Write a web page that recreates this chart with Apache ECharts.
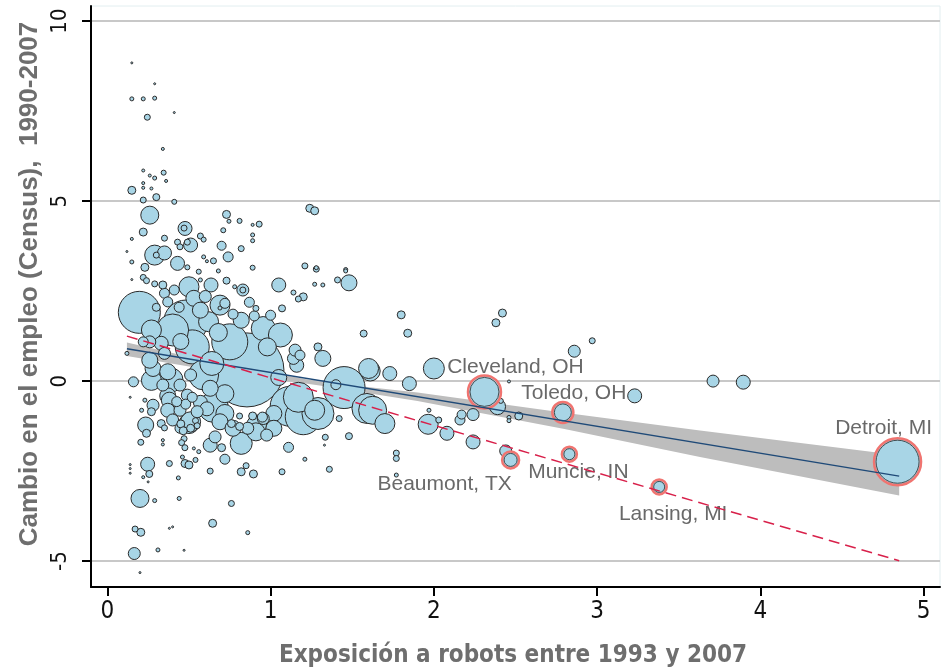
<!DOCTYPE html>
<html>
<head>
<meta charset="utf-8">
<script src="https://cdn.jsdelivr.net/npm/echarts@6/dist/echarts.min.js"></script>
<style>
  html, body { margin: 0; padding: 0; background: #fff; }
  #chart { width: 943px; height: 669px; }
</style>
</head>
<body>
<div id="chart"></div>
<script>
// Commuting zones: [robot exposure 1993-2007, employment change 1990-2007, employment weight]
const metros = [
    [0.15, 8.84, 4], [0.29, 8.26, 4], [0.15, 7.84, 16], [0.22, 7.84, 16], [0.29, 7.86, 16],
    [0.41, 7.46, 4], [0.245, 7.33, 36], [0.34, 6.45, 9], [0.22, 5.85, 9], [0.26, 5.71, 9],
    [0.29, 5.64, 16], [0.345, 5.79, 25], [0.36, 5.56, 9], [0.22, 5.5, 9], [0.22, 5.37, 9],
    [0.27, 5.35, 9], [0.15, 5.3, 64], [0.22, 5.03, 36], [0.3, 5.11, 49], [0.41, 4.98, 25],
    [0.26, 4.61, 324], [0.73, 4.63, 64], [0.745, 4.44, 16], [0.81, 4.45, 25], [0.89, 4.34, 9],
    [0.93, 4.36, 36], [1.24, 4.8, 64], [1.27, 4.73, 64], [0.22, 4.14, 64], [0.476, 4.24, 196],
    [0.47, 4.25, 36], [0.71, 4.19, 25], [0.15, 3.95, 9], [0.35, 3.97, 36], [0.57, 4.03, 36],
    [0.59, 3.93, 25], [0.89, 4.06, 16], [0.89, 3.9, 16], [0.43, 3.86, 36], [0.49, 3.86, 36],
    [0.51, 3.78, 196], [0.29, 3.5, 400], [0.3, 3.5, 36], [0.35, 3.56, 196], [0.43, 3.27, 196],
    [0.7, 3.76, 81], [0.74, 3.45, 100], [0.82, 3.68, 36], [0.12, 3.6, 4], [0.15, 3.31, 16],
    [0.61, 3.33, 9], [0.65, 3.34, 36], [1.21, 3.2, 36], [1.28, 3.15, 16], [1.46, 3.1, 16],
    [0.23, 3.16, 64], [0.22, 2.88, 36], [0.15, 2.82, 4], [0.24, 2.79, 36], [0.29, 2.7, 36],
    [0.34, 2.67, 64], [0.41, 2.53, 100], [0.35, 2.44, 100], [0.5, 2.62, 400], [0.53, 2.3, 256],
    [0.49, 3.16, 25], [0.56, 3.04, 25], [0.57, 2.81, 16], [0.635, 2.67, 196], [0.68, 3.06, 16],
    [0.73, 2.79, 49], [0.78, 2.62, 16], [0.83, 2.53, 144], [0.83, 2.53, 36], [0.89, 3.15, 25],
    [1.05, 2.67, 196], [1.28, 3.11, 36], [1.27, 2.69, 16], [1.32, 2.67, 16], [1.41, 2.81, 36],
    [1.46, 3.06, 16], [1.48, 2.73, 256], [1.14, 2.46, 25], [1.2, 2.34, 64], [1.17, 2.28, 36],
    [0.87, 2.19, 100], [0.72, 2.16, 100], [1.07, 2.02, 49], [0.91, 2.02, 36], [0.196, 1.91, 1764],
    [0.4, 1.42, 1024], [0.48, 1.64, 1936], [0.52, 0.95, 1156], [0.82, 1.69, 256], [0.955, 1.46, 576],
    [1.06, 1.28, 576], [0.855, 0.31, 5476], [0.64, 0.49, 576], [1.16, 0.44, 196], [1.18, 0.72, 100],
    [1.29, 0.95, 64], [1.32, 0.63, 256], [1.61, 0.28, 400], [1.73, 0.21, 196], [1.8, 1.84, 64],
    [1.84, 1.33, 64], [1.57, 1.32, 49], [1.85, -0.07, 196], [2.0, 0.35, 441], [0.75, 1.09, 1296],
    [0.69, 2.11, 400], [1.0, 1.83, 100], [0.27, 1.42, 400], [0.16, -0.02, 100], [0.27, 0.02, 400],
    [0.28, 0.35, 256], [0.37, -0.41, 256], [0.235, -1.22, 256], [0.5, -1.18, 400], [0.65, -0.73, 900],
    [0.82, -1.73, 484], [0.915, -1.22, 400], [0.14, -0.45, 4], [0.23, -0.53, 16], [0.21, -0.81, 16],
    [0.27, -0.85, 64], [0.33, -1.18, 64], [0.35, -1.3, 36], [0.24, -1.45, 64], [0.205, -1.7, 36],
    [0.34, -1.64, 9], [0.34, -1.76, 9], [0.37, -0.81, 196], [0.38, -0.53, 256], [0.45, -1.19, 64],
    [0.465, -1.38, 64], [0.47, -1.6, 36], [0.455, -1.71, 36], [0.475, -1.85, 36], [0.51, -1.31, 64],
    [0.51, -1.13, 400], [0.54, -1.1, 36], [0.55, -1.24, 36], [0.48, -0.64, 100], [0.52, -0.45, 100],
    [0.57, -0.59, 196], [0.55, -0.85, 144], [0.61, -0.77, 196], [0.72, -0.9, 324], [0.76, -1.18, 64],
    [0.81, -1.26, 64], [0.86, -1.31, 144], [0.91, -1.41, 324], [0.95, -1.0, 100], [0.89, -0.97, 64],
    [0.81, -0.97, 36], [0.66, -1.55, 144], [0.63, -1.78, 196], [0.7, -1.85, 64], [0.72, -2.17, 100],
    [0.56, -1.96, 16], [0.53, -1.87, 9], [0.476, -2.29, 64], [0.5, -2.33, 64], [0.54, -2.19, 25],
    [0.46, -2.11, 16], [0.38, -2.29, 36], [0.247, -2.31, 196], [0.257, -2.58, 49], [0.14, -2.32, 4],
    [0.14, -2.43, 4], [0.14, -2.56, 4], [0.22, -2.67, 9], [0.25, -2.8, 4], [0.435, -2.69, 16],
    [0.63, -2.5, 36], [0.82, -2.52, 64], [0.85, -2.35, 36], [0.895, -2.58, 64], [1.07, -2.52, 36],
    [1.11, -1.84, 100], [1.21, -2.17, 16], [1.36, -2.45, 36], [1.335, -1.56, 36], [1.48, -1.53, 49],
    [1.33, -1.78, 4], [1.42, -1.04, 36], [1.77, -2.0, 36], [1.77, -2.15, 36], [1.77, -2.61, 16],
    [0.2, -3.26, 324], [0.29, -3.32, 16], [0.44, -3.26, 16], [0.76, -3.4, 36], [0.645, -3.95, 64],
    [0.86, -4.21, 16], [0.17, -4.11, 36], [0.205, -4.2, 64], [0.38, -4.09, 4], [0.4, -4.05, 4],
    [0.31, -4.69, 16], [0.47, -4.7, 4], [0.165, -4.79, 144], [0.2, -5.32, 4], [1.2, -0.99, 1296],
    [1.29, -0.9, 1024], [1.45, -0.18, 1764], [1.625, -0.81, 784], [1.7, -1.18, 400], [1.965, -1.2, 400],
    [2.03, -1.08, 36], [1.12, -0.7, 1600], [1.17, -0.45, 900], [1.4, -0.1, 100], [1.27, -0.81, 400],
    [1.59, -0.76, 900], [1.6, 0.35, 400], [2.42, 1.89, 64], [2.38, 1.62, 64], [2.97, 1.12, 36],
    [2.86, 0.83, 144], [2.46, -0.01, 9], [2.39, -0.71, 256], [2.41, -0.55, 25], [1.97, -0.81, 16],
    [2.17, -0.93, 81], [2.24, -0.93, 144], [2.16, -1.08, 100], [2.46, -1.01, 16], [2.46, -1.1, 16],
    [2.52, -0.97, 64], [3.23, -0.41, 196], [3.71, 0.0, 144], [3.895, -0.03, 196], [2.08, -1.45, 196],
    [2.24, -1.69, 196], [2.44, -1.94, 144], [0.35, 0.77, 144], [0.26, 0.58, 256], [0.37, 0.26, 256],
    [0.34, -0.11, 144], [0.445, -0.11, 144], [0.49, -0.39, 144], [0.51, 0.17, 144], [0.59, 0.17, 900],
    [0.22, 1.09, 100], [0.12, 0.77, 16], [0.63, -0.2, 256], [0.445, -0.81, 144], [1.14, 0.63, 144],
    [1.15, 0.86, 144], [0.28, -0.67, 144], [0.4, -1.08, 144], [0.955, -1.04, 144], [1.02, -0.9, 256],
    [0.69, -1.13, 256], [0.77, -1.31, 256], [0.44, 2.05, 100], [0.37, 2.2, 100], [0.3, 2.05, 64],
    [0.57, 1.97, 256], [0.62, 1.65, 400], [0.69, 2.03, 16], [0.77, 1.86, 100], [0.9, 1.81, 100],
    [0.445, 3.73, 36], [0.59, 3.45, 16], [0.26, 1.09, 144], [0.39, 0.03, 576], [0.425, -0.57, 100],
    [0.445, -1.31, 100], [0.976, -1.5, 144], [1.02, -1.31, 256], [0.33, 1.05, 196], [0.45, 1.1, 256],
    [0.68, 1.35, 324], [0.6, 2.35, 144], [0.98, 0.95, 324], [1.05, 0.1, 256], [0.72, -0.35, 324]
];

// Highlighted commuting zones
const cityNames = ["Cleveland, OH", "Toledo, OH", "Beaumont, TX", "Muncie, IN", "Lansing, MI", "Detroit, MI"];
const cityX = [2.31, 2.79, 2.47, 2.83, 3.38, 4.84];
const cityY = [-0.3, -0.87, -2.19, -2.03, -2.94, -2.24];
const cityW = [900, 324, 196, 144, 144, 1936];

// Weighted fit and its confidence band
const fitX = [0.12, 4.85];
const fitY = [0.9, -2.64];
const bandX = [0.12, 0.6, 1.3, 1.9, 2.8, 3.63, 4.85];
const bandLow = [0.7, 0.33, -0.12, -0.55, -1.33, -2.11, -3.18];
const bandHigh = [1.07, 0.57, -0.02, -0.32, -0.88, -1.37, -2.06];

// Dashed reference line
const refX = [0.12, 4.85];
const refY = [1.25, -4.99];

const xTicks = [0, 1, 2, 3, 4, 5];
const yTicks = [-5, 0, 5, 10];

const NARROW = "'Liberation Sans Narrow', 'Arial Narrow', 'DejaVu Sans Condensed', sans-serif";
const SANS = "'Liberation Sans', Arial, sans-serif";
const FILL = "#a8d5e6";

// label centre relative to the bubble centre, in pixels
const labelOffsets = [[31, -25], [11, -19], [-66, 24], [9, 18], [14, 27], [-14, -34]];

const chart = echarts.init(document.getElementById("chart"), null, { renderer: "canvas" });

const metroData = metros.slice().sort((a, b) => b[2] - a[2]);
const cityData = cityNames.map((name, i) => ({
    name,
    value: [cityX[i], cityY[i], cityW[i]],
    label: {
        show: true,
        position: "inside",
        offset: labelOffsets[i],
        formatter: name,
        color: "#696969",
        fontSize: 21,
        fontFamily: SANS,
    },
}));

const option = {
    backgroundColor: "#fff",
    animation: false,
    grid: {
        left: 91, right: 3, top: 6, bottom: 82,
        show: true, borderColor: "#e2eef0", borderWidth: 1,
    },
    xAxis: {
        type: "value",
        min: -0.1,
        max: 5.1,
        axisLine: { show: true, onZero: false, lineStyle: { color: "#000", width: 2 } },
        axisTick: { show: true, customValues: xTicks, length: 9, lineStyle: { color: "#000", width: 2 } },
        axisLabel: { customValues: xTicks, margin: 13, color: "#111", fontSize: 24, fontFamily: NARROW },
        splitLine: { show: false },
    },
    yAxis: {
        type: "value",
        min: -5.72,
        max: 10.42,
        axisLine: { show: true, onZero: false, lineStyle: { color: "#000", width: 2 } },
        axisTick: { show: true, customValues: yTicks, length: 9, lineStyle: { color: "#000", width: 2 } },
        axisLabel: { customValues: yTicks, rotate: 90, margin: 20, color: "#111", fontSize: 22, fontFamily: NARROW },
        splitLine: { show: true, lineStyle: { color: "#c8c8c8", width: 2 } },
    },
    graphic: [
        {
            type: "text", x: 513, y: 656,
            style: {
                text: "Exposición a robots entre 1993 y 2007",
                fill: "#6e6e6e", fontSize: 24, fontWeight: "bold", fontFamily: NARROW,
                align: "center", verticalAlign: "middle",
            },
        },
        {
            type: "text", x: 30, y: 284, rotation: Math.PI / 2,
            style: {
                text: "Cambio en el empleo (Census),  1990-2007",
                fill: "#6e6e6e", fontSize: 26, fontWeight: "bold", fontFamily: SANS,
                align: "center", verticalAlign: "middle",
            },
        },
    ],
    series: [
        {
            name: "band",
            type: "custom",
            z: 1,
            silent: true,
            data: bandX.map((x, i) => [x, bandLow[i], bandHigh[i]]),
            renderItem: (params, api) => {
                if (params.dataIndex !== 0) return null;
                const upper = bandX.map((x, i) => api.coord([x, bandHigh[i]]));
                const lower = bandX.map((x, i) => api.coord([x, bandLow[i]])).reverse();
                return {
                    type: "polygon",
                    shape: { points: upper.concat(lower) },
                    style: { fill: "#bdbdbd" },
                };
            },
        },
        {
            name: "metros",
            type: "scatter",
            z: 2,
            data: metroData,
            symbolSize: (v) => Math.sqrt(v[2]),
            itemStyle: { color: FILL, borderColor: "#2a2a2a", borderWidth: 1, opacity: 1 },
            emphasis: { disabled: true },
        },
        {
            name: "cities",
            type: "scatter",
            z: 3,
            data: cityData,
            symbolSize: (v) => Math.sqrt(v[2]) + 3,
            itemStyle: { color: FILL, borderColor: "#f07470", borderWidth: 2.5, opacity: 1 },
            emphasis: { disabled: true },
        },
        {
            name: "citiesInner",
            type: "scatter",
            z: 4,
            data: cityNames.map((n, i) => [cityX[i], cityY[i], cityW[i]]),
            symbolSize: (v) => Math.sqrt(v[2]) - 1,
            itemStyle: { color: "rgba(0,0,0,0)", borderColor: "#2a2a2a", borderWidth: 1 },
            emphasis: { disabled: true },
            silent: true,
        },
        {
            name: "fit",
            type: "line",
            z: 5,
            data: fitX.map((x, i) => [x, fitY[i]]),
            symbol: "none",
            lineStyle: { color: "#1f4a78", width: 1.5 },
        },
        {
            name: "reference",
            type: "line",
            z: 5,
            data: refX.map((x, i) => [x, refY[i]]),
            symbol: "none",
            lineStyle: { color: "#d8204a", width: 1.5, type: [11, 6] },
        },
    ],
};

chart.setOption(option);
</script>
</body>
</html>
